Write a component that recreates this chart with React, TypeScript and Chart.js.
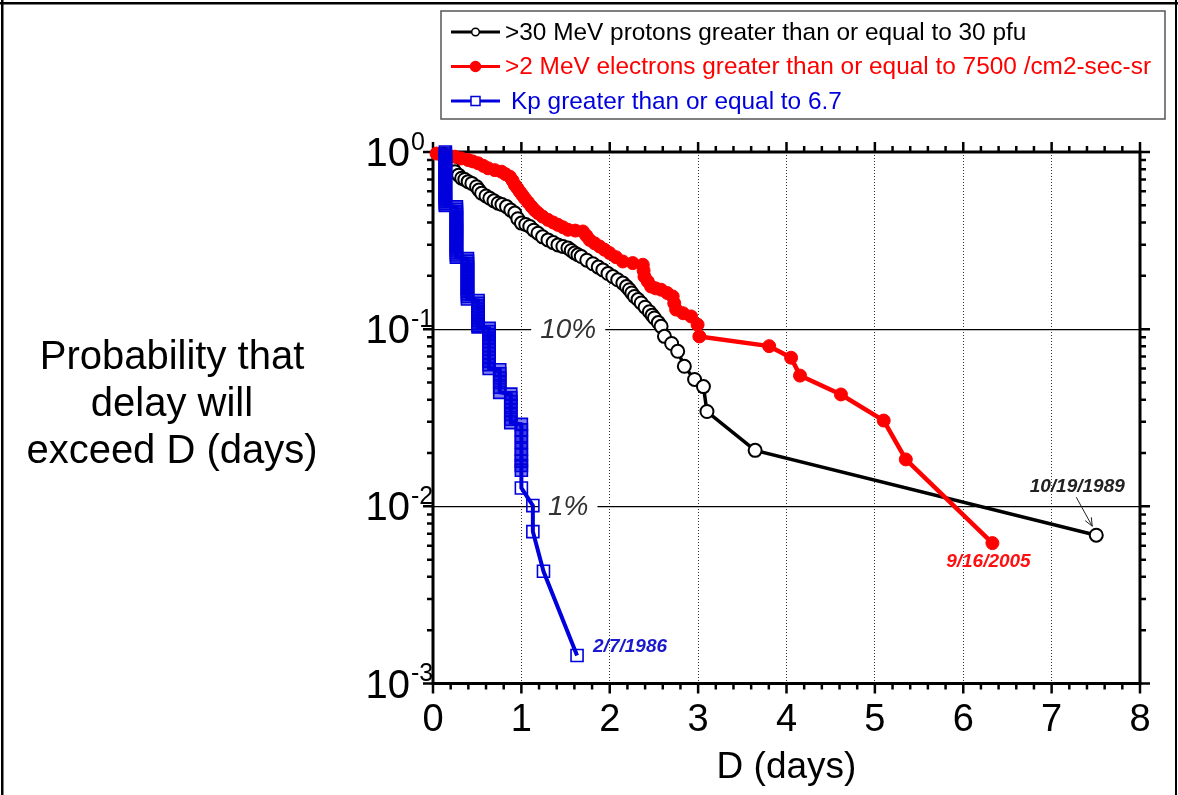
import React, { useEffect, useRef } from 'react';
import { Chart, registerables } from 'chart.js';

Chart.register(...registerables);

const FONT = '"Liberation Sans", Arial, Helvetica, sans-serif';

// ---------------- data ----------------
const seriesLabels = [
  '>30 MeV protons greater than or equal to 30 pfu',
  '>2 MeV electrons greater than or equal to 7500 /cm2-sec-sr',
  'Kp greater than or equal to 6.7',
];
const seriesColors = ['#000000', '#ff0000', '#0000dd'];
const eventDates = ['10/19/1989', '9/16/2005', '2/7/1986'];

const protonDays = [
  0.12, 0.16, 0.2, 0.225, 0.248, 0.29, 0.324, 0.36, 0.398, 0.44, 0.493, 0.52, 0.55,
  0.6, 0.643, 0.69, 0.737, 0.78, 0.832, 0.88, 0.926, 0.96, 1.001, 1.05, 1.095, 1.14,
  1.188, 1.24, 1.301, 1.36, 1.414, 1.47, 1.527, 1.565, 1.603, 1.64, 1.678, 1.74,
  1.809, 1.87, 1.922, 1.98, 2.035, 2.09, 2.148, 2.19, 2.223, 2.25, 2.28, 2.32,
  2.356, 2.4, 2.449, 2.48, 2.506, 2.55, 2.581, 2.619, 2.7, 2.769, 2.844, 2.96, 3.06,
  3.1, 3.645, 7.505,
];
const protonProb = [
  0.97, 0.92, 0.86, 0.81, 0.774, 0.74, 0.711, 0.7, 0.68, 0.665, 0.637, 0.61, 0.585,
  0.565, 0.548, 0.53, 0.514, 0.505, 0.492, 0.47, 0.452, 0.42, 0.397, 0.39, 0.38,
  0.362, 0.348, 0.332, 0.319, 0.308, 0.299, 0.293, 0.287, 0.278, 0.269, 0.263, 0.257,
  0.245, 0.234, 0.224, 0.216, 0.206, 0.198, 0.19, 0.182, 0.174, 0.167, 0.16, 0.153,
  0.147, 0.1406, 0.133, 0.1255, 0.12, 0.1156, 0.109, 0.1037, 0.0911, 0.083, 0.075,
  0.0617, 0.052, 0.0474, 0.0343, 0.0207, 0.00687,
];

const electronDays = [
  0.04, 0.1, 0.17, 0.248, 0.32, 0.398, 0.45, 0.511, 0.57, 0.624, 0.7, 0.775, 0.82,
  0.869, 0.9, 0.926, 0.955, 0.982, 1.01, 1.038, 1.075, 1.114, 1.15, 1.188, 1.24,
  1.301, 1.36, 1.414, 1.47, 1.527, 1.61, 1.696, 1.735, 1.772, 1.83, 1.885, 1.94,
  1.998, 2.07, 2.148, 2.26, 2.374, 2.383, 2.393, 2.43, 2.468, 2.52, 2.581, 2.65,
  2.712, 2.73, 2.751, 2.83, 2.92, 2.994, 3.014, 3.804, 4.052, 4.153, 4.616, 5.1,
  5.35, 6.33,
];
const electronProb = [
  0.98, 0.96, 0.95, 0.941, 0.92, 0.901, 0.885, 0.864, 0.835, 0.809, 0.79, 0.774,
  0.75, 0.726, 0.69, 0.652, 0.625, 0.597, 0.572, 0.548, 0.52, 0.492, 0.47, 0.452,
  0.432, 0.414, 0.4, 0.388, 0.376, 0.364, 0.36, 0.356, 0.337, 0.319, 0.305, 0.293,
  0.281, 0.269, 0.255, 0.241, 0.236, 0.231, 0.214, 0.198, 0.186, 0.174, 0.17, 0.167,
  0.16, 0.153, 0.14, 0.129, 0.123, 0.118, 0.106, 0.091, 0.0802, 0.069, 0.0547,
  0.0428, 0.0305, 0.0184, 0.0062,
];

const kpStepDays = [0.14, 0.265, 0.39, 0.51, 0.635, 0.755, 0.88, 1.0, 1.13, 1.25, 1.63];
const kpStepProbs = [
  [1.0, 0.975, 0.95, 0.925, 0.9, 0.875, 0.85, 0.825, 0.8, 0.78, 0.76, 0.74, 0.72, 0.7,
    0.68, 0.66, 0.64, 0.62, 0.6, 0.585, 0.57, 0.555, 0.54, 0.525, 0.51, 0.5],
  [0.49, 0.475, 0.46, 0.445, 0.43, 0.415, 0.4, 0.39, 0.38, 0.37, 0.36, 0.35, 0.34,
    0.33, 0.32, 0.31, 0.3, 0.29, 0.28, 0.27, 0.262, 0.255],
  [0.25, 0.242, 0.234, 0.226, 0.218, 0.21, 0.203, 0.196, 0.189, 0.182, 0.176, 0.17,
    0.164, 0.158, 0.153, 0.148],
  [0.145, 0.14, 0.135, 0.13, 0.125, 0.12, 0.116, 0.112, 0.108, 0.105, 0.103],
  [0.101, 0.097, 0.093, 0.089, 0.085, 0.081, 0.077, 0.073, 0.069, 0.066, 0.063, 0.06],
  [0.059, 0.056, 0.053, 0.05, 0.047, 0.044],
  [0.043, 0.041, 0.039, 0.037, 0.035, 0.033, 0.031, 0.0297],
  [0.029, 0.027, 0.025, 0.023, 0.021, 0.0195, 0.018, 0.017, 0.016, 0.0127],
  [0.0101, 0.0072],
  [0.0043],
  [0.00144],
];

const yTitleLines = ['Probability that', 'delay will', 'exceed D (days)'];
const xTitle = 'D (days)';
const percentValues = [0.1, 0.01];
const percentTexts = ['10%', '1%'];

// ---------------- helpers ----------------
const isDecade = (v: number) => {
  const l = Math.log10(v);
  return Math.abs(l - Math.round(l)) < 1e-6;
};

const PERCENT_DAY = 1.53;

const decorPlugin = {
  id: 'decor',
  beforeDatasetsDraw(chart: any) {
    const { ctx, chartArea: a } = chart;
    const x = chart.scales.x;
    const y = chart.scales.y;
    ctx.save();
    ctx.font = `italic 28px ${FONT}`;
    ctx.textAlign = 'center';
    ctx.textBaseline = 'middle';
    percentValues.forEach((v, i) => {
      const py = y.getPixelForValue(v);
      const cx = x.getPixelForValue(PERCENT_DAY);
      const w = ctx.measureText(percentTexts[i]).width;
      ctx.fillStyle = '#ffffff';
      ctx.fillRect(cx - w / 2 - 9, py - 2, w + 18, 4);
      ctx.fillStyle = '#333333';
      ctx.fillText(percentTexts[i], cx, py + 1);
    });
    ctx.strokeStyle = '#000';
    ctx.lineWidth = 2.5;
    ctx.beginPath();
    for (let k = 0; k <= 40; k++) {
      const px = x.getPixelForValue(k * 0.2);
      const len = k % 5 === 0 ? 10 : 6;
      ctx.moveTo(px, a.bottom);
      ctx.lineTo(px, a.bottom + len);
      ctx.moveTo(px, a.top);
      ctx.lineTo(px, a.top - len);
    }
    for (let e = -3; e <= 0; e++) {
      for (let m = 1; m <= (e === 0 ? 1 : 9); m++) {
        const v = m * Math.pow(10, e);
        const py = y.getPixelForValue(v);
        const len = m === 1 ? 10 : 6;
        ctx.moveTo(a.left, py);
        ctx.lineTo(a.left - len, py);
        ctx.moveTo(a.right, py);
        ctx.lineTo(a.right + len, py);
      }
    }
    ctx.stroke();
    ctx.lineWidth = 3;
    ctx.strokeRect(a.left, a.top, a.right - a.left, a.bottom - a.top);
    ctx.restore();
  },
  afterDraw(chart: any) {
    const { ctx, chartArea: a } = chart;
    const y = chart.scales.y;
    ctx.save();
    for (let e = -3; e <= 0; e++) {
      const py = y.getPixelForValue(Math.pow(10, e));
      const right = a.left - 23;
      ctx.fillStyle = '#000';
      ctx.font = `40px ${FONT}`;
      ctx.textAlign = 'right';
      ctx.textBaseline = 'middle';
      ctx.fillText('10', right, py + 3);
      ctx.font = `25px ${FONT}`;
      ctx.textAlign = 'left';
      ctx.fillText(String(e), right + 1, py - 9);
    }
    ctx.font = `40px ${FONT}`;
    ctx.textAlign = 'center';
    ctx.textBaseline = 'middle';
    ctx.fillStyle = '#000';
    yTitleLines.forEach((t, i) => ctx.fillText(t, 172, 358 + i * 47));

    // legend
    ctx.lineWidth = 1.5;
    ctx.strokeStyle = '#555';
    ctx.strokeRect(441, 11, 724, 108);
    chart.data.datasets.forEach((ds: any, i: number) => {
      const cy = 32 + i * 34.5;
      ctx.strokeStyle = ds.borderColor;
      ctx.lineWidth = 3;
      ctx.beginPath();
      ctx.moveTo(451, cy);
      ctx.lineTo(500, cy);
      ctx.stroke();
      ctx.lineWidth = 1.5;
      if (ds.pointStyle === 'rect') {
        ctx.fillStyle = '#fff';
        ctx.fillRect(471, cy - 4.5, 9, 9);
        ctx.strokeRect(471, cy - 4.5, 9, 9);
      } else {
        ctx.beginPath();
        const r = i === 0 ? 3.8 : 5;
        ctx.arc(475.5, cy, r, 0, Math.PI * 2);
        ctx.fillStyle = i === 0 ? '#ffffff' : ds.borderColor;
        ctx.fill();
        ctx.stroke();
      }
      ctx.fillStyle = ds.borderColor;
      ctx.font = `24.4px ${FONT}`;
      ctx.textAlign = 'left';
      ctx.textBaseline = 'middle';
      ctx.fillText(ds.label, i === 2 ? 511 : 505, cy + 1);
    });

    ctx.font = `italic bold 19px ${FONT}`;
    ctx.textBaseline = 'middle';
    const pts = [0, 1, 2].map((i) => {
      const d = chart.getDatasetMeta(i).data;
      return d[d.length - 1];
    });
    ctx.fillStyle = '#222';
    ctx.textAlign = 'center';
    ctx.fillText(eventDates[0], pts[0].x - 19, pts[0].y - 48);
    ctx.strokeStyle = '#222';
    ctx.lineWidth = 1;
    const ax0 = pts[0].x - 20, ay0 = pts[0].y - 38;
    const ax1 = pts[0].x - 4, ay1 = pts[0].y - 9;
    ctx.beginPath();
    ctx.moveTo(ax0, ay0);
    ctx.lineTo(ax1, ay1);
    const ang = Math.atan2(ay1 - ay0, ax1 - ax0);
    ctx.moveTo(ax1, ay1);
    ctx.lineTo(ax1 - 9 * Math.cos(ang - 0.4), ay1 - 9 * Math.sin(ang - 0.4));
    ctx.moveTo(ax1, ay1);
    ctx.lineTo(ax1 - 9 * Math.cos(ang + 0.4), ay1 - 9 * Math.sin(ang + 0.4));
    ctx.stroke();
    ctx.fillStyle = '#ff1010';
    ctx.fillText(eventDates[1], pts[1].x - 4, pts[1].y + 19);
    ctx.fillStyle = '#1a1acc';
    ctx.textAlign = 'left';
    ctx.fillText(eventDates[2], pts[2].x + 16, pts[2].y - 9);

    ctx.fillStyle = '#000';
    ctx.fillRect(0, 2, 1178, 2.5);
    ctx.fillRect(1, 0, 2.5, 795);
    ctx.fillRect(1175, 0, 2, 795);
    ctx.restore();
  },
};

export default function App() {
  const ref = useRef<HTMLCanvasElement | null>(null);

  useEffect(() => {
    if (!ref.current) return;
    const toXY = (xs: number[], ys: number[]) => xs.map((d, i) => ({ x: d, y: ys[i] }));
    const kpData = kpStepDays.flatMap((d, i) => kpStepProbs[i].map((p) => ({ x: d, y: p })));

    const chart = new Chart(ref.current, {
      type: 'line',
      data: {
        datasets: [
          {
            label: seriesLabels[0],
            data: toXY(protonDays, protonProb),
            borderColor: seriesColors[0],
            borderWidth: 3.5,
            pointStyle: 'circle',
            pointRadius: 6.5,
            pointBorderWidth: 2,
            pointBorderColor: seriesColors[0],
            pointBackgroundColor: '#ffffff',
            order: 2,
            clip: false,
          } as any,
          {
            label: seriesLabels[1],
            data: toXY(electronDays, electronProb),
            borderColor: seriesColors[1],
            borderWidth: 4.5,
            pointStyle: 'circle',
            pointRadius: 6.5,
            pointBorderWidth: 1,
            pointBorderColor: seriesColors[1],
            pointBackgroundColor: seriesColors[1],
            order: 1,
            clip: false,
          } as any,
          {
            label: seriesLabels[2],
            data: kpData,
            borderColor: seriesColors[2],
            borderWidth: 4,
            pointStyle: 'rect',
            pointRadius: 8.5,
            pointBorderWidth: 1.6,
            pointBorderColor: seriesColors[2],
            pointBackgroundColor: (c: any) =>
              c.raw && c.raw.y > 0.013 ? 'rgba(0,0,221,0.5)' : 'rgba(255,255,255,0)',
            order: 0,
            clip: false,
          } as any,
        ],
      },
      options: {
        responsive: false,
        animation: false,
        events: [],
        layout: { padding: { top: 152, right: 38, left: 0, bottom: 0 } },
        elements: { line: { tension: 0 } },
        plugins: { legend: { display: false }, tooltip: { enabled: false } },
        scales: {
          x: {
            type: 'linear',
            min: 0,
            max: 8,
            afterFit: (s: any) => {
              s.height = 111.5;
            },
            border: { display: false, dash: [1, 2] },
            grid: {
              drawTicks: false,
              lineWidth: 1,
              color: (c: any) =>
                c.tick && c.tick.value > 0 && c.tick.value < 8 ? '#333333' : 'rgba(0,0,0,0)',
            },
            ticks: {
              stepSize: 1,
              color: '#000',
              padding: 14,
              font: { family: FONT, size: 38 },
            },
            title: {
              display: true,
              text: xTitle,
              color: '#000',
              font: { family: FONT, size: 37 },
              padding: { top: 0, bottom: 5 },
            },
          },
          y: {
            type: 'logarithmic',
            min: 0.001,
            max: 1,
            afterFit: (s: any) => {
              s.width = 433;
            },
            border: { display: false },
            grid: {
              drawTicks: false,
              lineWidth: 1.2,
              color: (c: any) =>
                c.tick && isDecade(c.tick.value) && c.tick.value < 0.5 && c.tick.value > 0.005
                  ? '#000000'
                  : 'rgba(0,0,0,0)',
            },
            ticks: { display: false },
          },
        },
      } as any,
      plugins: [decorPlugin],
    });
    return () => chart.destroy();
  }, []);

  return (
    <div
      style={{
        position: 'fixed',
        left: 0,
        top: 0,
        width: 1178,
        height: 795,
        background: '#ffffff',
      }}
    >
      <canvas ref={ref} width={1178} height={795} style={{ display: 'block' }} />
    </div>
  );
}
